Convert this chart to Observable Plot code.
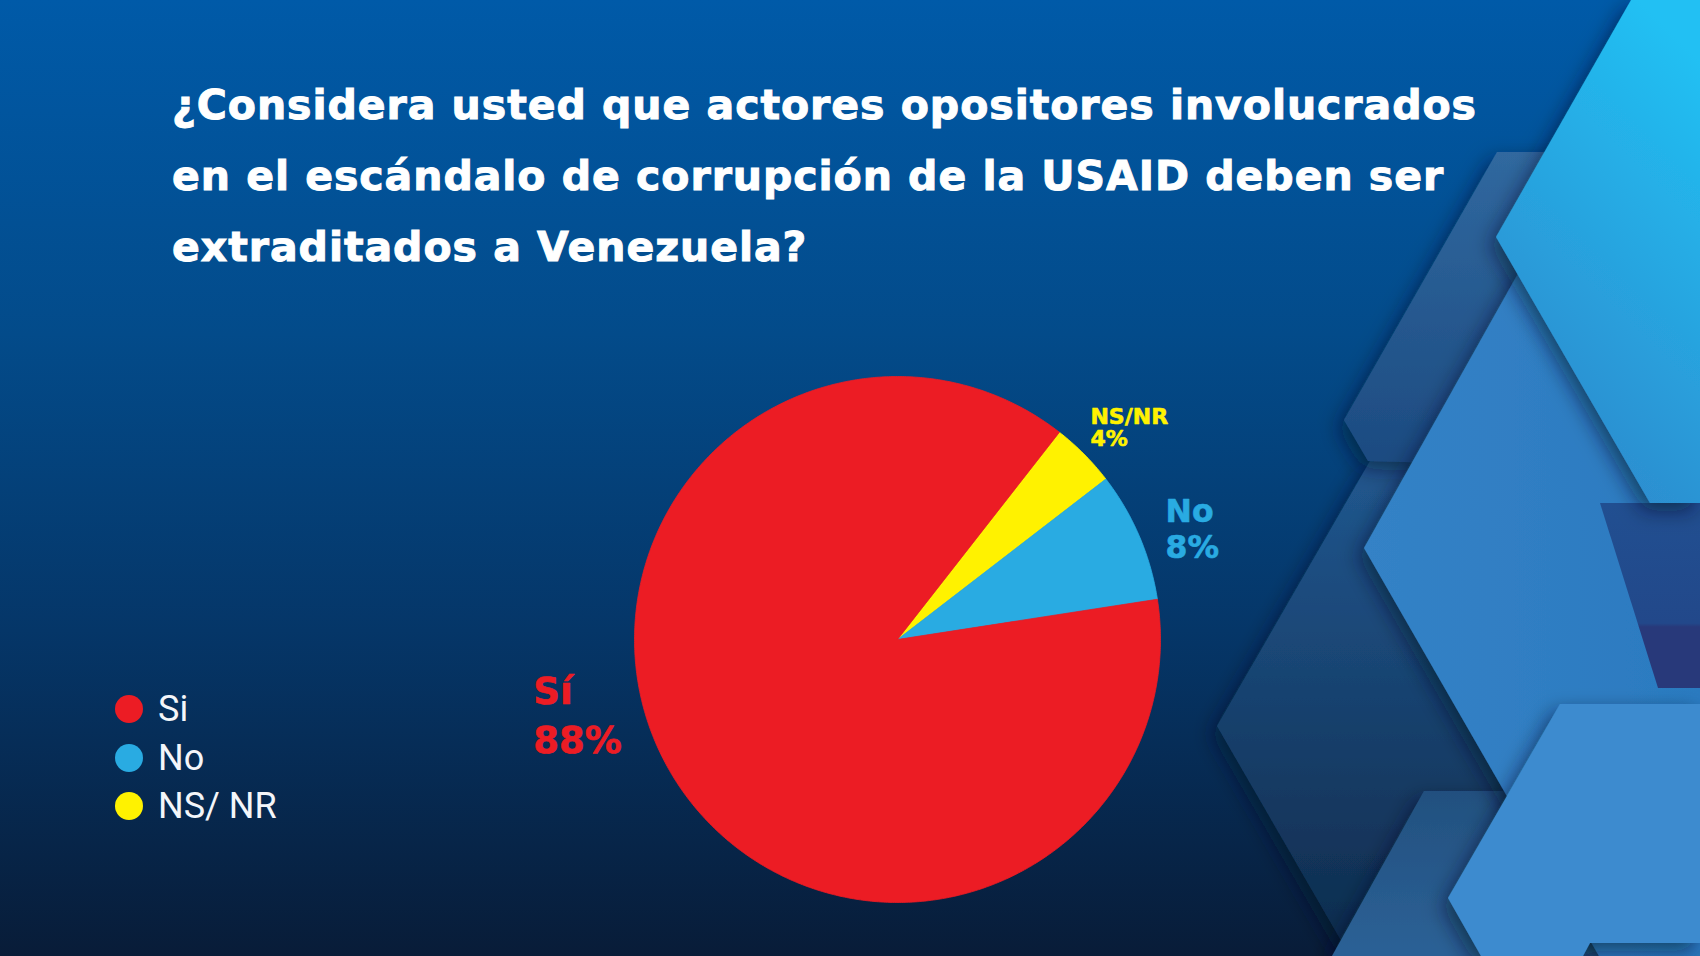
<!DOCTYPE html>
<html>
<head>
<meta charset="utf-8">
<script src="https://cdn.jsdelivr.net/npm/d3@7"></script>
<script src="https://cdn.jsdelivr.net/npm/@observablehq/plot@0.6"></script>
<style>
  html, body { margin: 0; padding: 0; }
  body { width: 1700px; height: 956px; overflow: hidden; position: relative;
    background: linear-gradient(180deg, #005aa8 0%, #034b8a 35%, #053668 66%, #081c38 100%); }
  #deco { position: absolute; left: 0; top: 0; }
  #title { position: absolute; left: 172px; top: 70px; color: #ffffff;
    font-family: "DejaVu Sans", sans-serif; font-weight: bold; font-size: 41px; line-height: 71px; white-space: nowrap;
    -webkit-text-stroke: 1px #ffffff; }
  #title div { display: block; }
  #title span { display: inline-block; }
  #legend { position: absolute; left: 115px; top: 685px; font-family: Roboto, sans-serif; color: #f4f6fa; font-size: 36px; }
  .row { display: flex; align-items: center; height: 48.6px; }
  .sw { width: 28px; height: 28px; border-radius: 50%; margin-right: 15px; }
  #chart { position: absolute; left: 0; top: 0; }
</style>
</head>
<body>
<svg id="deco" width="1700" height="956" viewBox="0 0 1700 956">
  <defs>
    <linearGradient id="gG" x1="0" y1="0" x2="0" y2="1">
      <stop offset="0" stop-color="#21578f"/>
      <stop offset="1" stop-color="#0e2b4c"/>
    </linearGradient>
    <linearGradient id="gB" x1="0" y1="0" x2="0" y2="1">
      <stop offset="0" stop-color="#30689f"/>
      <stop offset="1" stop-color="#1c4a80"/>
    </linearGradient>
    <linearGradient id="gF" x1="0" y1="0" x2="0" y2="1">
      <stop offset="0" stop-color="#22507f"/>
      <stop offset="1" stop-color="#2c6196"/>
    </linearGradient>
    <linearGradient id="gC" x1="0" y1="0" x2="1" y2="0">
      <stop offset="0" stop-color="#3482c6"/>
      <stop offset="1" stop-color="#2b7ac0"/>
    </linearGradient>
    <linearGradient id="gD" x1="0" y1="0" x2="0" y2="1">
      <stop offset="0" stop-color="#214f91"/>
      <stop offset="0.65" stop-color="#22488a"/>
      <stop offset="0.67" stop-color="#28397a"/>
      <stop offset="1" stop-color="#28397a"/>
    </linearGradient>
    <linearGradient id="gA" x1="0.7" y1="0" x2="0.3" y2="1">
      <stop offset="0" stop-color="#21c0f3"/>
      <stop offset="1" stop-color="#2f86ca"/>
    </linearGradient>
    <filter id="sh" x="-20%" y="-20%" width="140%" height="140%">
      <feDropShadow dx="-6" dy="8" stdDeviation="10" flood-color="#03142b" flood-opacity="0.55"/>
    </filter>
  </defs>
  <polygon points="1370,461 1700,461 1700,956 1350,956 1217,726" fill="url(#gG)" filter="url(#sh)"/>
  <polygon points="1497,152 1700,152 1700,470 1368,461 1344,420" fill="url(#gB)" filter="url(#sh)"/>
  <polygon points="1424,791 1620,791 1620,956 1332,956" fill="url(#gF)" filter="url(#sh)"/>
  <polygon points="1520,270 1700,270 1700,956 1599,956 1364,548" fill="url(#gC)" filter="url(#sh)"/>
  <polygon points="1600,503 1700,503 1700,688 1658,688" fill="url(#gD)"/>
  <polygon points="1560,704 1700,704 1700,943 1590,943 1583,956 1481,956 1448,898" fill="#3c8bcf" filter="url(#sh)"/>
  <polygon points="1631,0 1700,0 1700,503 1650,503 1496,237" fill="url(#gA)" filter="url(#sh)"/>
</svg>

<div id="title">
  <div><span>¿Considera usted que actores opositores involucrados</span></div>
  <div><span>en el escándalo de corrupción de la USAID deben ser</span></div>
  <div><span>extraditados a Venezuela?</span></div>
</div>

<div id="legend"></div>
<div id="chart"></div>

<script>
// ---- data ----
const categories = ["Sí", "No", "NS/NR"];
const values = [88, 8, 4];
const legendLabels = ["Si", "No", "NS/ NR"];
const colors = ["#ec1c24", "#29abe2", "#fff200"];
// clockwise drawing order from the start angle
const drawOrder = ["NS/NR", "No", "Sí"];

// ---- layout ----
const W = 1700, H = 956;
const cx = 897, cy = 639, R = 263;
const startAngle = 38; // degrees, clockwise from north
const labelRadius = 1.2;

const total = d3.sum(values);
const slices = [];
let acc = startAngle;
for (const cat of drawOrder) {
  const i = categories.indexOf(cat);
  const span = values[i] / total * 360;
  slices.push({cat, value: values[i], color: colors[i], a0: acc, a1: acc + span});
  acc += span;
}

function slicePoints(s) {
  const pts = [{x: 0, y: 0}];
  const n = Math.max(2, Math.ceil((s.a1 - s.a0) / 0.5));
  for (let k = 0; k <= n; k++) {
    const a = (s.a0 + (s.a1 - s.a0) * k / n) * Math.PI / 180;
    pts.push({x: Math.sin(a), y: Math.cos(a)});
  }
  pts.push({x: 0, y: 0});
  return pts;
}

function labelPoint(s) {
  const a = (s.a0 + s.a1) / 2 * Math.PI / 180;
  return {x: labelRadius * Math.sin(a), y: labelRadius * Math.cos(a), text: `${s.cat}\n${s.value}%`};
}

const labelStyle = {
  "NS/NR": {fontSize: 22, lineHeight: 1.0, dx: -31, dy: -9},
  "No": {fontSize: 31.5, lineHeight: 1.12, dx: -22, dy: -18},
  "Sí": {fontSize: 37, lineHeight: 1.32, dx: -92, dy: -130}
};

const marks = [];
for (const s of slices) {
  marks.push(Plot.line(slicePoints(s), {x: "x", y: "y", fill: s.color, stroke: s.color, strokeWidth: 0.8, curve: "linear"}));
}
for (const s of slices) {
  const st = labelStyle[s.cat];
  marks.push(Plot.text([labelPoint(s)], {
    x: "x", y: "y", text: "text", fill: s.color, stroke: s.color, strokeWidth: 0.6,
    textAnchor: "start", lineAnchor: "top",
    fontSize: st.fontSize, lineHeight: st.lineHeight, dx: st.dx, dy: st.dy,
    fontWeight: "bold", fontFamily: "'DejaVu Sans', sans-serif"
  }));
}

const chart = Plot.plot({
  width: W, height: H, margin: 0,
  x: {domain: [-cx / R, (W - cx) / R], axis: null},
  y: {domain: [-(H - cy) / R, cy / R], axis: null},
  style: {background: "transparent", overflow: "visible"},
  marks
});
document.getElementById("chart").append(chart);

// legend
const legend = document.getElementById("legend");
legendLabels.forEach((lab, i) => {
  const row = document.createElement("div");
  row.className = "row";
  const sw = document.createElement("div");
  sw.className = "sw";
  sw.style.background = colors[i];
  const t = document.createElement("span");
  t.textContent = lab;
  row.append(sw, t);
  legend.append(row);
});

// fit title width to reference line length
const spans = document.querySelectorAll("#title span");
const target = 1305;
const w0 = spans[0].getBoundingClientRect().width;
const n0 = spans[0].textContent.length;
const ls = (target - w0) / n0;
spans.forEach(s => s.style.letterSpacing = ls + "px");
</script>
</body>
</html>
